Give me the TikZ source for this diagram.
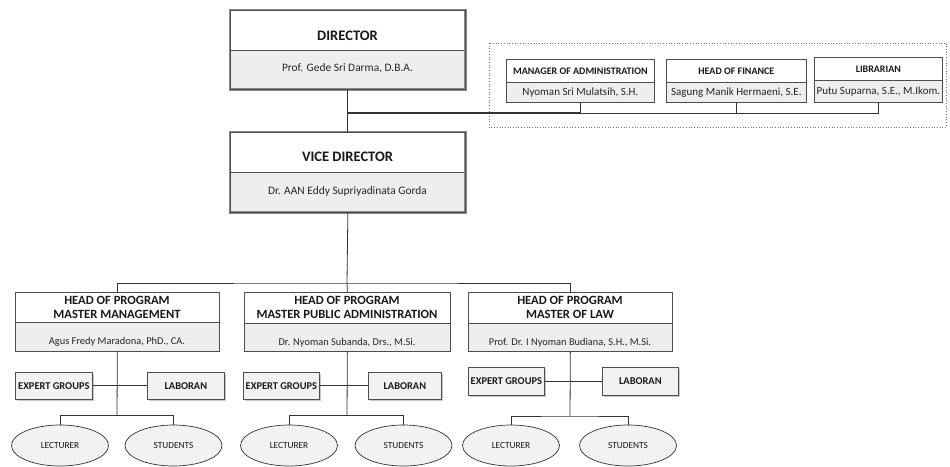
\documentclass[tikz,border=0pt]{standalone}
\usepackage{fontspec}
\setmainfont{Carlito}
\usetikzlibrary{shapes.geometric,shadows}
\definecolor{linec}{HTML}{333333}
\definecolor{boxc}{HTML}{4D4D4D}
\definecolor{namefill}{HTML}{EEEEEE}
\definecolor{smallfill}{HTML}{F2F2F2}
\definecolor{thickc}{HTML}{8A8A8A}
\tikzset{
  part/.style={rectangle, inner sep=0pt, anchor=north west, draw=boxc, line width=0.7pt},
  tpart/.style={part, fill=white},
  npart/.style={part, fill=namefill},
  shadowed/.style={drop shadow={shadow xshift=1.2pt, shadow yshift=-1.2pt, opacity=0.35, fill=black!60}},
  bigttl/.style={font=\bfseries\fontsize{14.5}{16}\selectfont, text=black!90, inner sep=0pt},
  bigname/.style={font=\fontsize{11.4}{13}\selectfont, text=black!85, inner sep=0pt},
  stttl/.style={font=\bfseries\fontsize{10}{11}\selectfont, text=black!90, inner sep=0pt},
  stname/.style={font=\fontsize{11}{12}\selectfont, text=black!85, inner sep=0pt},
  prttl/.style={font=\bfseries\fontsize{12.6}{14}\selectfont, text=black!90, inner sep=0pt, align=center},
  prname/.style={font=\fontsize{10.4}{12}\selectfont, text=black!85, inner sep=0pt},
  smallbox/.style={rectangle, draw=boxc, line width=0.7pt, fill=smallfill, inner sep=0pt,
     font=\bfseries\fontsize{10.4}{12}\selectfont, text=black!90, shadowed},
  oval/.style={ellipse, draw=linec, line width=0.7pt, fill=smallfill, inner sep=0pt,
     minimum width=97pt, minimum height=41pt, font=\fontsize{9.3}{10}\selectfont, text=black!90},
  conn/.style={draw=linec, line width=0.8pt},
  thickconn/.style={draw=linec, line width=1.3pt},
}
\begin{document}
\begin{tikzpicture}[x=1pt,y=-1pt]
\useasboundingbox[fill=white] (0,0) rectangle (950,466);

% dotted staff frame
\draw[black!55, dotted, line width=0.7pt] (489,43) rectangle (946,127);

% ---------- Director ----------
\node[tpart, minimum width=235pt, minimum height=40pt] (dirT) at (230,10) {};
\node[npart, minimum width=235pt, minimum height=39pt] (dirN) at (230,50) {};
\draw[thickc, line width=2.8pt] (dirT.north west) rectangle (dirN.south east);
\draw[black!70, line width=0.5pt] (dirT.north west) rectangle (dirN.south east);
\node[bigttl] (dirTxt) at (347.5,36) {DIRECTOR};
\node[bigname] (dirName) at (347.5,68) {Prof. Gede Sri Darma, D.B.A.};

% ---------- Vice Director ----------
\node[tpart, minimum width=235pt, minimum height=40pt] (vicT) at (230,132) {};
\node[npart, minimum width=235pt, minimum height=40pt] (vicN) at (230,172) {};
\draw[thickc, line width=2.8pt] (vicT.north west) rectangle (vicN.south east);
\draw[black!70, line width=0.5pt] (vicT.north west) rectangle (vicN.south east);
\node[bigttl] (vicTxt) at (347.5,157) {VICE DIRECTOR};
\node[bigname] (vicName) at (347.5,191) {Dr. AAN Eddy Supriyadinata Gorda};

% ---------- Staff ----------
\begin{scope}
\path[shadowed, fill=white] (506,59) rectangle (654,102);
\path[shadowed, fill=white] (666,59) rectangle (806,102);
\path[shadowed, fill=white] (814,57) rectangle (942,102);
\end{scope}
\node[tpart, minimum width=148pt, minimum height=23pt] (manT) at (506,59) {};
\node[npart, minimum width=148pt, minimum height=20pt] (manN) at (506,82) {};
\node[tpart, minimum width=140pt, minimum height=23pt] (finT) at (666,59) {};
\node[npart, minimum width=140pt, minimum height=20pt] (finN) at (666,82) {};
\node[tpart, minimum width=128pt, minimum height=23pt] (libT) at (814,57) {};
\node[npart, minimum width=128pt, minimum height=22pt] (libN) at (814,80) {};
\node[stttl] (manTxt) at (manT.center) {MANAGER OF ADMINISTRATION};
\node[stname] (manName) at (manN.center) {Nyoman Sri Mulatsih, S.H.};
\node[stttl] (finTxt) at (finT.center) {HEAD OF FINANCE};
\node[stname] (finName) at (finN.center) {Sagung Manik Hermaeni, S.E.};
\node[stttl] (libTxt) at (libT.center) {LIBRARIAN};
\node[stname] (libName) at (libN.center) {Putu Suparna, S.E., M.Ikom.};

% connectors director level
\coordinate (j1) at (347.5,113);
\draw[conn] (dirN.south) -- (vicT.north);
\draw[thickconn] (j1) -- (manN.south |- j1);
\draw[conn] (manN.south |- j1) -| (libN.south);
\draw[conn] (manN.south) -- (manN.south |- j1);
\draw[conn] (finN.south) -- (finN.south |- j1);

% ---------- Programs ----------
\path[shadowed, fill=white] (15,292) rectangle (219,351);
\path[shadowed, fill=white] (244,292) rectangle (450,351);
\path[shadowed, fill=white] (468,292) rectangle (672,351);
\node[tpart, minimum width=204pt, minimum height=30pt] (p1T) at (15,292) {};
\node[npart, minimum width=204pt, minimum height=29pt] (p1N) at (15,322) {};
\node[tpart, minimum width=206pt, minimum height=31pt] (p2T) at (244,292) {};
\node[npart, minimum width=206pt, minimum height=28pt] (p2N) at (244,323) {};
\node[tpart, minimum width=204pt, minimum height=31pt] (p3T) at (468,292) {};
\node[npart, minimum width=204pt, minimum height=28pt] (p3N) at (468,323) {};

\node[prttl] (p1Txt) at (117,307) {HEAD OF PROGRAM\\MASTER MANAGEMENT};
\node[prttl] (p2Txt) at (347,307.5) {HEAD OF PROGRAM\\MASTER PUBLIC ADMINISTRATION};
\node[prttl] (p3Txt) at (570,307.5) {HEAD OF PROGRAM\\MASTER OF LAW};
\node[prname] (p1Name) at (117,342) {Agus Fredy Maradona, PhD., CA.};
\node[prname] (p2Name) at (347,342.5) {Dr. Nyoman Subanda, Drs., M.Si.};
\node[prname] (p3Name) at (570,342.5) {Prof. Dr. I Nyoman Budiana, S.H., M.Si.};

% expert groups / laboran
\node[smallbox, anchor=north west, minimum width=77pt, minimum height=27pt] (e1) at (15,372) {EXPERT GROUPS};
\node[smallbox, anchor=north west, minimum width=77pt, minimum height=27pt] (l1) at (147,372) {LABORAN};
\node[smallbox, anchor=north west, minimum width=76pt, minimum height=27pt] (e2) at (243,372) {EXPERT GROUPS};
\node[smallbox, anchor=north west, minimum width=73pt, minimum height=27pt] (l2) at (368,372) {LABORAN};
\node[smallbox, anchor=north west, minimum width=76pt, minimum height=28pt] (e3) at (468,367) {EXPERT GROUPS};
\node[smallbox, anchor=north west, minimum width=76pt, minimum height=28pt] (l3) at (602,367) {LABORAN};

% ellipses
\node[oval] (lec1) at (60,445.5) {LECTURER};
\node[oval] (stu1) at (173.5,445.5) {STUDENTS};
\node[oval] (lec2) at (289,445.5) {LECTURER};
\node[oval] (stu2) at (403.5,445.5) {STUDENTS};
\node[oval] (lec3) at (511,445.5) {LECTURER};
\node[oval] (stu3) at (628,445.5) {STUDENTS};

% connectors program level
\coordinate (j2) at (347,283);
\draw[conn] (vicN.south) -- (j2);
\draw[conn] (p1T.north) |- (j2) -| (p3T.north);
\draw[conn] (j2) -- (p2T.north);

\coordinate (b1) at (117,415.5);
\coordinate (b2) at (347,415.5);
\coordinate (b3) at (570,416);
\draw[conn] (p1N.south) -- (b1);
\draw[conn] (p2N.south) -- (b2);
\draw[conn] (p3N.south) -- (b3);
\draw[conn] (lec1.north) |- (b1) -| (stu1.north);
\draw[conn] (lec2.north) |- (b2) -| (stu2.north);
\draw[conn] (lec3.north) |- (b3) -| (stu3.north);
\draw[conn] (e1.east) -- (l1.west);
\draw[conn] (e2.east) -- (l2.west);
\draw[conn] (e3.east) -- (l3.west);
\end{tikzpicture}
\end{document}
